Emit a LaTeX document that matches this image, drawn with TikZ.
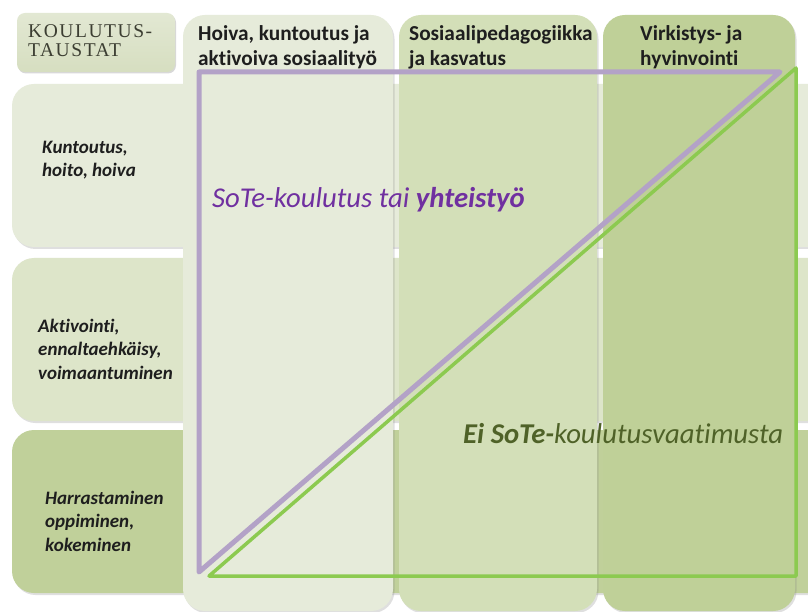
\documentclass[tikz,border=0pt]{standalone}
\usepackage{fontspec}
\setmainfont{Carlito}[Ligatures=NoCommon]
\newfontfamily\titlefont[LetterSpace=8]{Liberation Serif}
\usetikzlibrary{shadows}
\definecolor{rowA}{RGB}{230,235,218}
\definecolor{rowB}{RGB}{221,229,201}
\definecolor{rowC}{RGB}{192,208,154}
\definecolor{colA}{RGB}{230,235,218}
\definecolor{colB}{RGB}{211,223,184}
\definecolor{colC}{RGB}{191,208,152}
\definecolor{hdr}{RGB}{214,222,192}
\definecolor{purpleline}{RGB}{179,162,199}
\definecolor{greenline}{RGB}{140,202,80}
\definecolor{purpletext}{RGB}{112,48,160}
\definecolor{olivetext}{RGB}{79,98,40}
\definecolor{darktext}{RGB}{30,30,30}
\definecolor{titletext}{RGB}{60,62,50}
\begin{document}
\begin{tikzpicture}[x=1pt,y=-1pt,
  panel/.style={rounded corners=22pt, drop shadow={opacity=0.25, shadow xshift=1.5pt, shadow yshift=-2pt}},
  rowtext/.style={anchor=west, align=left, font=\fontsize{19}{23.5}\selectfont\bfseries\itshape, text=darktext, inner sep=0pt},
  coltext/.style={anchor=west, align=left, font=\fontsize{21.3}{25}\selectfont\bfseries, text=darktext, inner sep=0pt},
  bigtext/.style={anchor=base west, inner sep=0pt, font=\fontsize{28.7}{32}\selectfont\itshape},
  titletxt/.style={anchor=west, inner sep=0pt, font=\fontsize{19.5}{20}\selectfont\titlefont, text=titletext},
  purpletri/.style={draw=purpleline, line width=5pt, line join=round},
  greentri/.style={draw=greenline, line width=3.5pt, line join=round},
]
\useasboundingbox (0,0) rectangle (808,612);
\fill[white] (0,0) rectangle (808,612);
\clip (0,0) rectangle (808,612);

% rows
\path[panel, fill=rowA] (12,84) rectangle (850,247);
\path[panel, fill=rowB] (12,258) rectangle (850,421);
\path[panel, fill=rowC] (12,430) rectangle (850,593);

% columns
\path[panel, fill=colA] (183,15) rectangle (393,611);
\path[panel, fill=colB] (399,15) rectangle (597,611);
\path[panel, fill=colC] (603,15) rectangle (795,611);

% header box
\path[rounded corners=8pt, top color=hdr!70!white, bottom color=hdr, drop shadow={opacity=0.3, shadow xshift=1pt, shadow yshift=-1.5pt}] (17,13) rectangle (175,72);
\node[titletxt] (t1) at (28,31) {KOULUTUS-};
\node[titletxt] (t2) at (28,50) {TAUSTAT};

% column headers
\node[coltext] (c1) at (198,47) {Hoiva, kuntoutus ja\\aktivoiva sosiaalityö};
\node[coltext] (c2) at (409,47) {Sosiaalipedagogiikka\\ja kasvatus};
\node[coltext] (c3) at (640,47) {Virkistys- ja\\hyvinvointi};

% row labels
\node[rowtext] (r1) at (42,160) {Kuntoutus,\\hoito, hoiva};
\node[rowtext] (r2) at (38,349) {Aktivointi,\\ennaltaehkäisy,\\voimaantuminen};
\node[rowtext] (r3) at (45,521) {Harrastaminen\\oppiminen,\\kokeminen};

% triangles
\coordinate (p1) at (199,72);
\coordinate (p2) at (780,72);
\coordinate (p3) at (199,572);
\draw[purpletri] (p1) -- (p2) -- (p3) -- cycle;
\coordinate (g1) at (209,576);
\coordinate (g2) at (796,68);
\coordinate (g3) at (796,576);
\draw[greentri] (g1) -- (g2) -- (g3) -- cycle;

\node[bigtext, text=purpletext] (sote) at (212,208) {SoTe-koulutus tai \textbf{yhteistyö}};
\node[bigtext, text=olivetext] (ei) at (463,443) {\textbf{Ei SoTe-}koulutusvaatimusta};
\end{tikzpicture}
\end{document}
